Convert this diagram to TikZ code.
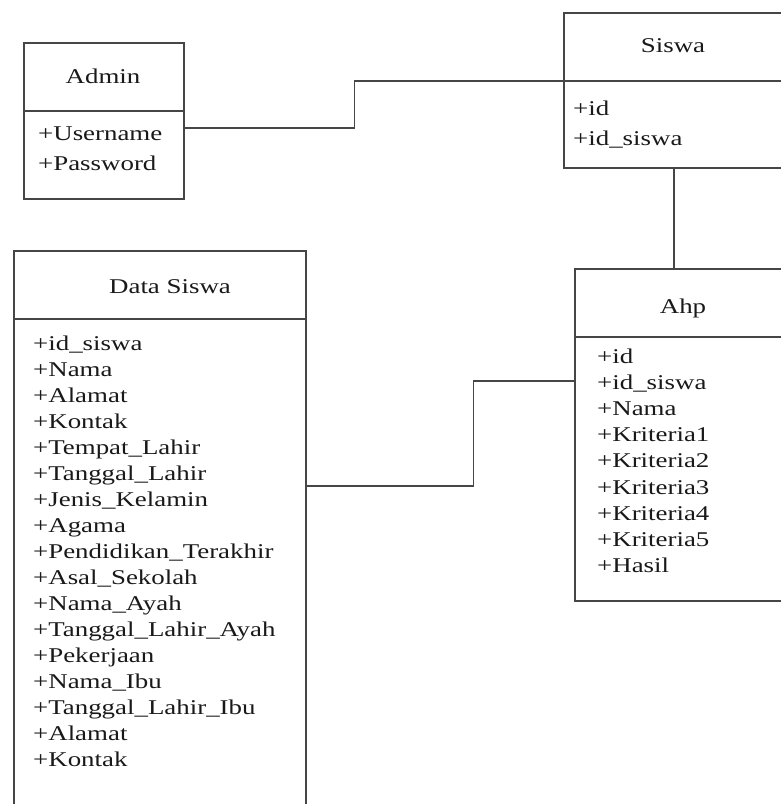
\documentclass[tikz,border=0pt]{standalone}
\usepackage{fontspec}
\setmainfont{Liberation Serif}[FakeStretch=1.28]
\definecolor{linegray}{RGB}{70,70,70}
\definecolor{textdark}{RGB}{25,25,25}
\tikzset{
  x=1pt, y=-1pt,
  umlbox/.style={draw=linegray, line width=1.5pt, fill=white, inner sep=0pt, anchor=north west},
  divider/.style={draw=linegray, line width=1.5pt},
  conn/.style={draw=linegray, line width=1.5pt},
  attr/.style={anchor=base west, inner sep=0pt, text=textdark, font=\fontsize{21}{25}\selectfont},
  classname/.style={anchor=base, inner sep=0pt, text=textdark, font=\fontsize{21}{25}\selectfont},
}
\begin{document}
\begin{tikzpicture}
\useasboundingbox (0,0) rectangle (781,804);
\fill[white] (0,0) rectangle (781,804);
\clip (0,0) rectangle (781,804);

% class boxes
\node[umlbox, minimum width=160pt, minimum height=156pt] (admin) at (23,42) {};
\node[umlbox, minimum width=220pt, minimum height=155pt] (siswa) at (563,12) {};
\node[umlbox, minimum width=292pt, minimum height=560pt] (data) at (13,250) {};
\node[umlbox, minimum width=218pt, minimum height=332pt] (ahp) at (574,268) {};

% compartment dividers
\foreach \b in {admin,siswa,data,ahp}
  \draw[divider] ([yshift=-69pt]\b.north west) -- ([yshift=-69pt]\b.north east);

% class names
\node[classname] (adminname) at (103,83) {Admin};
\node[classname] (siswaname) at (673,52) {Siswa};
\node[classname] (dataname) at (170,293) {Data Siswa};
\node[classname] (ahpname) at (683,313) {Ahp};

% attributes
\foreach \t [count=\i] in {+Username,+Password}
  \node[attr] (adminattr\i) at (38,{140+30*(\i-1)}) {\t};
\foreach \t [count=\i] in {+id,+id\_siswa}
  \node[attr] (siswaattr\i) at (573,{115+30*(\i-1)}) {\t};
\foreach \t [count=\i] in {+id\_siswa,+Nama,+Alamat,+Kontak,+Tempat\_Lahir,
    +Tanggal\_Lahir,+Jenis\_Kelamin,+Agama,+Pendidikan\_Terakhir,+Asal\_Sekolah,
    +Nama\_Ayah,+Tanggal\_Lahir\_Ayah,+Pekerjaan,+Nama\_Ibu,+Tanggal\_Lahir\_Ibu,
    +Alamat,+Kontak}
  \node[attr] (dataattr\i) at (33,{350+26*(\i-1)}) {\t};
\foreach \t [count=\i] in {+id,+id\_siswa,+Nama,+Kriteria1,+Kriteria2,+Kriteria3,
    +Kriteria4,+Kriteria5,+Hasil}
  \node[attr] (ahpattr\i) at (597,{363+26.2*(\i-1)}) {\t};

% associations
\draw[conn] ([yshift=-86pt]admin.north east) -- ++(170,0) |- ([yshift=-69pt]siswa.north west);
\draw[conn] (siswa.south) -- (siswa.south |- ahp.north);
\draw[conn] ([yshift=-236pt]data.north east) -- ++(167,0) |- ([yshift=-113pt]ahp.north west);
\end{tikzpicture}
\end{document}
